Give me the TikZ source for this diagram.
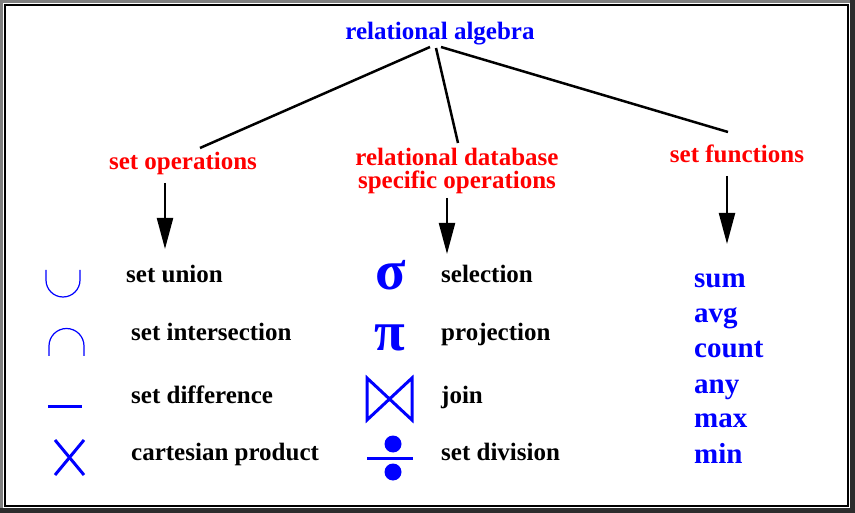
\documentclass[tikz,border=0pt]{standalone}
\usepackage{fontspec}
\setmainfont{Liberation Serif}
\usetikzlibrary{arrows.meta}
\definecolor{frgray}{RGB}{128,128,128}
\definecolor{frdark}{RGB}{45,45,45}
\definecolor{ublue}{RGB}{0,0,255}
\definecolor{ured}{RGB}{255,0,0}
\begin{document}
\begin{tikzpicture}[x=1pt,y=-1pt,
  lab/.style={font=\fontsize{25}{22}\selectfont\bfseries, anchor=base west, inner sep=0pt},
  head/.style={font=\fontsize{25}{23}\selectfont\bfseries, text=ured, anchor=base, inner sep=0pt, align=center},
  func/.style={font=\fontsize{29}{30}\selectfont\bfseries, text=ublue, anchor=base west, inner sep=0pt},
  greek/.style={font=\fontsize{56}{56}\selectfont\bfseries, text=ublue, inner sep=0pt},
  branch/.style={line width=2.5pt, black},
  arr/.style={line width=2.2pt, black, -{Triangle[length=31pt,width=16pt]}},
  sym/.style={ublue, line width=3pt},
  thin/.style={ublue, line width=1.2pt}]
% frame
\fill[frgray] (0,0) rectangle (855,513);
\fill[white] (3,3) rectangle (850,508);
\draw[black, line width=1.2pt] (5,5) rectangle (848,506);
\fill[frdark] (850,0) rectangle (855,513);
\fill[frdark] (0,508) rectangle (855,513);
% headings
\node[font=\fontsize{25}{22}\selectfont\bfseries, text=ublue, anchor=base, inner sep=0pt] (root) at (440,40) {relational algebra};
\node[head] (setops) at (183,170) {set operations};
\node[head] (reldb) at (457,189) {relational database\\specific operations};
\node[head] (setfun) at (737,163) {set functions};
% branch end points
\coordinate (r1) at (430,47);
\coordinate (r2) at (436,48);
\coordinate (r3) at (441,47);
\coordinate (e1) at (200,148);
\coordinate (e2) at (458,143);
\coordinate (e3) at (728,132);
\draw[branch] (r1) -- (e1);
\draw[branch] (r2) -- (e2);
\draw[branch] (r3) -- (e3);
% arrows
\coordinate (a1s) at (165,183); \coordinate (a1e) at (165,249);
\coordinate (a2s) at (447,198); \coordinate (a2e) at (447,254);
\coordinate (a3s) at (727,176); \coordinate (a3e) at (727,244);
\draw[arr] (a1s) -- (a1e);
\draw[arr] (a2s) -- (a2e);
\draw[arr] (a3s) -- (a3e);
% left column symbols
\draw[thin] (46,270) -- (46,280) arc (180:0:17) -- (80,270);
\draw[thin] (49,356) -- (49,346) arc (180:360:17.5) -- (84,356);
\draw[sym] (48,406) -- (82,406);
\draw[sym] (55,440) -- (84,475);
\draw[sym] (84,440) -- (55,475);
% left column labels
\node[lab] (union) at (126,283) {set union};
\node[lab] (inter) at (131,341) {set intersection};
\node[lab] (diff) at (131,403) {set difference};
\node[lab] (cart) at (131,460) {cartesian product};
% middle column symbols
\node[greek] (sigma) at (391,275) {σ};
\node[greek] (pi) at (390,338) {π};
\draw[sym, line join=miter] (367,378) -- (367,420) -- (412,378) -- (412,420) -- cycle;
\draw[sym] (367,458) -- (413,458);
\fill[ublue] (393,444) circle (8.5);
\fill[ublue] (393,472) circle (8.5);
% middle column labels
\node[lab] (sel) at (441,283) {selection};
\node[lab] (proj) at (441,341) {projection};
\node[lab] (join) at (441,403) {join};
\node[lab] (div) at (441,460) {set division};
% right column
\node[func] (sum) at (694,288) {sum};
\node[func] (avg) at (694,323) {avg};
\node[func] (count) at (694,358) {count};
\node[func] (any) at (694,393) {any};
\node[func] (max) at (694,428) {max};
\node[func] (min) at (694,463) {min};
\end{tikzpicture}
\end{document}
